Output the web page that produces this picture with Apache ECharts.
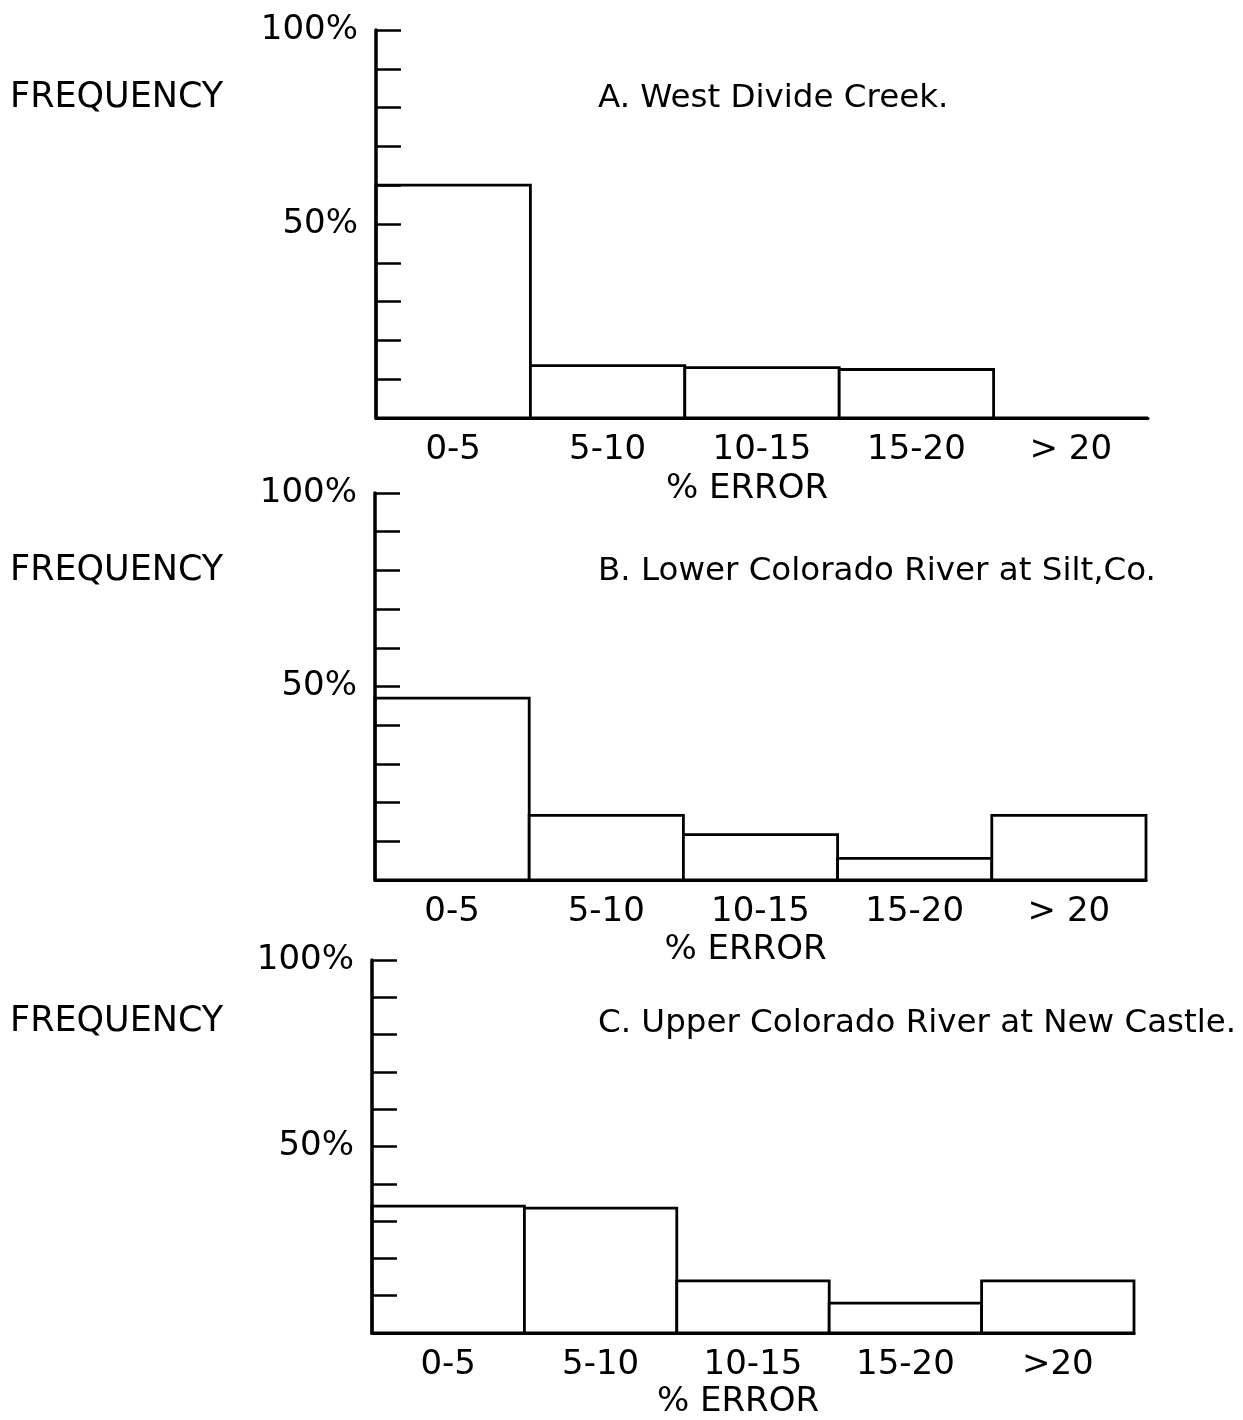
<!DOCTYPE html>
<html>
<head>
<meta charset="utf-8">
<script src="https://cdn.jsdelivr.net/npm/echarts@6/dist/echarts.min.js"></script>
<style>
html,body{margin:0;padding:0;background:#fff;}
#c{width:1243px;height:1420px;}
</style>
</head>
<body>
<div id="c"></div>
<script>
const categoriesAB = ['0-5', '5-10', '10-15', '15-20', '> 20'];
const categoriesC = ['0-5', '5-10', '10-15', '15-20', '>20'];
const valuesA = [60, 13.5, 13, 12.5, 0];
const valuesB = [47, 16.7, 11.7, 5.6, 16.7];
const valuesC = [34, 33.5, 14, 8, 14];
const panelTitles = ['A. West Divide Creek.', 'B. Lower Colorado River at Silt,Co.', 'C. Upper Colorado River at New Castle.'];
const yLabelTicks = [50, 100];

const FONT = 'DejaVu Sans';
const chart = echarts.init(document.getElementById('c'), null, {renderer: 'canvas'});

const grids = [
  {left: 376, right: 95, top: 30, height: 388},
  {left: 375, right: 97, top: 493, height: 387},
  {left: 372, right: 109, top: 960, height: 378}
];
const freqTops = [80, 553, 1004];
const titleTops = [82, 555, 1007];
const nameGaps = [54, 53, 52];
const cats = [categoriesAB, categoriesAB, categoriesC];
const vals = [valuesA, valuesB, valuesC];

const titles = [];
for (let i = 0; i < 3; i++) {
  titles.push({text: 'FREQUENCY', left: 10, top: freqTops[i], padding: 0,
    textStyle: {fontFamily: FONT, fontSize: 35, fontWeight: 'normal', color: '#000'}});
  titles.push({text: panelTitles[i], left: 598, top: titleTops[i], padding: 0,
    textStyle: {fontFamily: FONT, fontSize: 32.5, fontWeight: 'normal', color: '#000'}});
}

function renderBar(params, api) {
  const base = api.coord([api.value(0), 0]);
  const size = api.size([1, api.value(1)]);
  return {
    type: 'rect',
    shape: {x: base[0] - size[0] / 2, y: base[1] - size[1], width: size[0], height: size[1]},
    style: {fill: '#fff', stroke: '#000', lineWidth: 2.8}
  };
}

const option = {
  backgroundColor: '#fff',
  animation: false,
  title: titles,
  grid: grids,
  xAxis: [0, 1, 2].map(i => ({
    type: 'category', gridIndex: i, data: cats[i], boundaryGap: true, z: 10,
    axisLine: {show: true, lineStyle: {color: '#000', width: 3}},
    axisTick: {show: false},
    axisLabel: {color: '#000', fontFamily: FONT, fontSize: 34, margin: 15},
    name: '% ERROR', nameLocation: 'middle', nameGap: nameGaps[i],
    nameTextStyle: {color: '#000', fontFamily: FONT, fontSize: 34, padding: [0, 30, 0, 0]},
    splitLine: {show: false}
  })),
  yAxis: [0, 1, 2].map(i => ({
    type: 'value', gridIndex: i, min: 0, max: 100, interval: 10, z: 10,
    axisLine: {show: true, lineStyle: {color: '#000', width: 3.5}},
    axisTick: {show: true, inside: true, length: 25, lineStyle: {color: '#000', width: 2.5}},
    axisLabel: {color: '#000', fontFamily: FONT, fontSize: 34, margin: 18,
      formatter: v => yLabelTicks.indexOf(v) >= 0 ? v + '%' : ''},
    splitLine: {show: false}
  })),
  series: [0, 1, 2].map(i => ({
    type: 'custom', xAxisIndex: i, yAxisIndex: i,
    data: vals[i].map((v, k) => [k, v]),
    encode: {x: 0, y: 1},
    renderItem: renderBar,
    emphasis: {disabled: true}
  }))
};
chart.setOption(option);
</script>
</body>
</html>
